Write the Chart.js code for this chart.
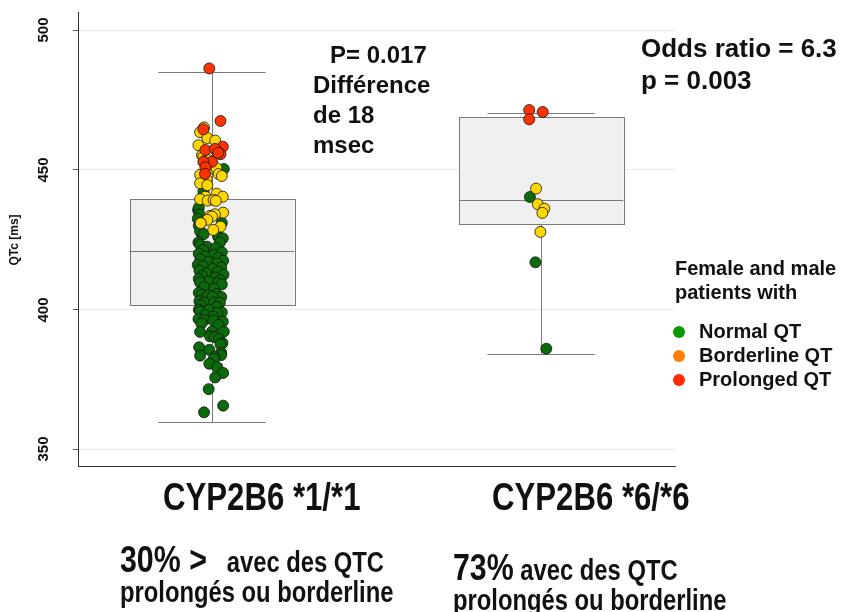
<!DOCTYPE html>
<html>
<head>
<meta charset="utf-8">
<script src="https://cdn.jsdelivr.net/npm/chart.js@4.4.1/dist/chart.umd.min.js"></script>
<style>
  html, body { margin: 0; padding: 0; background: #fff; }
  #wrap { position: relative; width: 842px; height: 612px; font-family: "Liberation Sans", Arial, sans-serif; font-weight: bold; color: #111; }
  #chart { position: absolute; left: 0; top: 0; }
  .txt { position: absolute; white-space: nowrap; }
  .narrow { transform: scaleX(0.82); transform-origin: left center; }
  .dot { display: inline-block; width: 12px; height: 12px; border-radius: 50%; margin-right: 14px; vertical-align: 0px; }
  .ylab { position: absolute; width: 40px; height: 16px; line-height: 16px; text-align: center; font-size: 15px; transform: rotate(-90deg); }
</style>
</head>
<body>
<div id="wrap">
  <canvas id="chart" width="842" height="612"></canvas>

  <div class="txt" style="left:14px; top:240px; width:0; height:0;">
    <div style="position:absolute; left:-40px; top:-8px; width:80px; text-align:center; font-size:12px; line-height:16px; transform:rotate(-90deg);">QTc [ms]</div>
  </div>

  <div class="txt" style="left:330px; top:40px; font-size:24px; line-height:30px;">P= 0.017</div>
  <div class="txt" style="left:313px; top:70px; font-size:24px; line-height:30px;">
    Différence<br>de 18<br>msec
  </div>
  <div class="txt" style="left:641px; top:32px; font-size:26px; line-height:32px;">
    Odds ratio = 6.3<br>p = 0.003
  </div>

  <div class="txt" style="left:675px; top:256px; font-size:20px; line-height:24px;">
    Female and male<br>patients with
  </div>
  <div class="txt" style="left:673px; top:319px; font-size:20px; line-height:24px;">
    <span class="dot" style="background:#0a9a00"></span>Normal QT<br>
    <span class="dot" style="background:#ff7f00"></span>Borderline QT<br>
    <span class="dot" style="background:#ff2a00"></span>Prolonged QT
  </div>

  <div class="txt narrow" style="left:163px; top:476px; font-size:38px; line-height:42px;">CYP2B6 *1/*1</div>
  <div class="txt narrow" style="left:492px; top:476px; font-size:38px; line-height:42px;">CYP2B6 *6/*6</div>

  <div class="txt narrow" style="left:120px; top:540px; font-size:29px; line-height:40px;">
    <span style="font-size:37px">30% &gt;</span>&nbsp;&nbsp; avec des QTC
  </div>
  <div class="txt narrow" style="left:120px; top:576px; font-size:29px; line-height:32px;">prolongés ou borderline</div>

  <div class="txt narrow" style="left:453px; top:548px; font-size:29px; line-height:40px;">
    <span style="font-size:37px">73%</span> avec des QTC
  </div>
  <div class="txt narrow" style="left:453px; top:584px; font-size:29px; line-height:32px;">prolongés ou borderline</div>
</div>

<script>
// groups sit at x = 1 and x = 2 on a linear axis
const groupNames = ['CYP2B6 *1/*1', 'CYP2B6 *6/*6'];
const groupPos = [1, 2];

// box plot summary per group (ms)
const whiskerLow = [359.9, 384.2];
const q1 = [401.5, 430.6];
const median = [421.0, 439.2];
const q3 = [439.6, 468.9];
const whiskerHigh = [485.0, 470.3];

const yTicks = [350, 400, 450, 500];

// jittered points: [QTc, horizontal jitter]
const g1Prolonged = [
  [486.3, -0.008], [467.5, 0.026], [464.5, -0.026], [458.3, 0.033], [456.8, 0.014],
  [457.1, -0.020], [455.6, 0.026], [457.5, 0.009], [452.9, 0.000], [452.9, -0.026],
  [450.9, -0.020], [448.6, -0.021], [456.1, 0.019]
];
const g1Borderline = [
  [465.2, -0.024], [463.5, -0.036], [461.4, -0.014], [460.5, 0.010], [458.8, -0.041],
  [455.3, -0.030], [454.7, -0.026], [453.5, -0.011], [452.8, -0.024], [450.5, 0.004],
  [450.6, 0.014], [448.5, 0.020], [448.2, -0.036], [447.8, 0.030], [446.6, -0.016],
  [445.2, -0.036], [444.5, -0.014], [441.5, 0.014], [440.4, 0.033], [440.4, -0.020],
  [439.5, -0.036], [439.0, -0.013], [439.2, 0.005], [438.9, 0.012], [434.7, 0.034],
  [434.1, 0.009], [433.5, -0.006], [433.3, 0.000], [432.1, -0.014], [431.1, -0.035],
  [430.9, -0.034], [429.7, 0.026], [428.5, 0.004]
];
const g1Normal = [
  [450.3, 0.036], [442.2, -0.026], [435.6, -0.042], [427.1, -0.031], [426.1, 0.019],
  [436.5, -0.040], [434.0, -0.038], [432.5, -0.043], [430.0, -0.040], [431.0, 0.030],
  [428.0, -0.036], [427.0, -0.025], [426.0, 0.020], [425.5, 0.033], [424.0, -0.041],
  [424.0, 0.024], [423.2, -0.036], [422.5, -0.015], [422.0, 0.012], [421.3, -0.027],
  [420.5, 0.030], [420.0, -0.040], [419.5, 0.005], [419.0, -0.022], [418.5, 0.020],
  [418.0, -0.035], [417.5, 0.034], [417.0, -0.010], [416.5, 0.015], [416.0, -0.043],
  [415.5, -0.028], [415.0, 0.028], [414.5, 0.002], [414.0, -0.038], [413.5, 0.018],
  [413.0, -0.018], [412.5, 0.035], [412.0, -0.030], [411.5, 0.010], [411.0, -0.040],
  [410.5, 0.025], [410.0, -0.010], [409.7, -0.036], [409.5, 0.018], [409.0, 0.030],
  [408.0, -0.024], [407.5, 0.006], [406.0, -0.040], [405.5, 0.014], [405.3, -0.030],
  [405.0, -0.012], [404.5, 0.028], [404.5, 0.002], [403.0, -0.038], [402.5, -0.024],
  [402.5, 0.006], [402.5, 0.024], [401.5, -0.034], [401.0, 0.015], [400.0, -0.040],
  [399.9, -0.010], [399.3, -0.036], [399.0, 0.030], [398.7, 0.016], [398.0, -0.020],
  [397.5, 0.004], [396.6, -0.041], [396.3, -0.023], [396.1, 0.004], [395.7, 0.033],
  [395.0, -0.032], [394.5, 0.020], [392.0, -0.036], [392.1, 0.000], [392.1, 0.036],
  [390.4, -0.006], [390.1, 0.008], [389.4, 0.022], [388.0, 0.032], [387.5, 0.026],
  [386.5, -0.039], [385.6, -0.008], [384.6, 0.028], [383.5, -0.036], [383.7, 0.028],
  [383.0, 0.008], [382.4, 0.006], [380.6, -0.008], [379.4, 0.016], [377.3, 0.034],
  [375.7, 0.010], [371.5, -0.010], [365.6, 0.034], [363.2, -0.024]
];
const g2Prolonged = [[471.4, -0.036], [470.7, 0.005], [468.1, -0.036]];
const g2Borderline = [[443.3, -0.015], [437.7, -0.010], [436.1, 0.010], [434.6, 0.004], [427.8, -0.002]];
const g2Normal = [[440.3, -0.034], [416.9, -0.017], [386.0, 0.016]];

function toPoints(list, pos) {
  return list.map(function(p) { return {x: pos + p[1], y: p[0]}; });
}

// boxes, whiskers and medians drawn with the chart's own scales
const boxPlugin = {
  id: 'boxes',
  beforeDatasetsDraw(chart) {
    const ctx = chart.ctx, xs = chart.scales.x, ys = chart.scales.y;
    ctx.save();
    ctx.strokeStyle = '#7a7a7a';
    ctx.lineWidth = 1;
    groupPos.forEach(function(pos, i) {
      const xc = Math.round(xs.getPixelForValue(pos)) + 0.5;
      const xl = xs.getPixelForValue(pos - 0.25), xr = xs.getPixelForValue(pos + 0.25);
      const cl = xs.getPixelForValue(pos - 0.163), cr = xs.getPixelForValue(pos + 0.163);
      const yq1 = ys.getPixelForValue(q1[i]), yq3 = ys.getPixelForValue(q3[i]);
      const ylo = Math.round(ys.getPixelForValue(whiskerLow[i])) + 0.5;
      const yhi = Math.round(ys.getPixelForValue(whiskerHigh[i])) + 0.5;
      const ymd = Math.round(ys.getPixelForValue(median[i])) + 0.5;
      ctx.beginPath();
      ctx.moveTo(xc, yhi); ctx.lineTo(xc, yq3);
      ctx.moveTo(xc, yq1); ctx.lineTo(xc, ylo);
      ctx.moveTo(cl, yhi); ctx.lineTo(cr, yhi);
      ctx.moveTo(cl, ylo); ctx.lineTo(cr, ylo);
      ctx.stroke();
      ctx.fillStyle = '#f0f0f0';
      ctx.fillRect(xl, yq3, xr - xl, yq1 - yq3);
      ctx.strokeRect(Math.round(xl) + 0.5, Math.round(yq3) + 0.5, Math.round(xr - xl), Math.round(yq1 - yq3));
      ctx.beginPath();
      ctx.moveTo(xl, ymd); ctx.lineTo(xr, ymd);
      ctx.stroke();
    });
    ctx.restore();
  }
};

function pointSet(label, color, list1, list2, order) {
  return {
    label: label,
    data: toPoints(list1, groupPos[0]).concat(toPoints(list2, groupPos[1])),
    backgroundColor: color,
    borderColor: '#111',
    borderWidth: 0.8,
    pointRadius: 5.5,
    order: order
  };
}

const chart = new Chart(document.getElementById('chart').getContext('2d'), {
  type: 'scatter',
  data: {
    datasets: [
      pointSet('Normal QT', '#0b6b0b', g1Normal, g2Normal, 3),
      pointSet('Borderline QT', '#ffd700', g1Borderline, g2Borderline, 2),
      pointSet('Prolonged QT', '#ff3300', g1Prolonged, g2Prolonged, 1)
    ]
  },
  plugins: [boxPlugin],
  options: {
    responsive: false,
    animation: false,
    layout: { padding: { top: 12, right: 167, bottom: 0, left: 0 } },
    plugins: { legend: { display: false }, tooltip: { enabled: false } },
    scales: {
      x: {
        type: 'linear', min: 0.593, max: 2.407,
        grid: { display: false, drawTicks: false },
        border: { display: true, color: '#333', width: 1 },
        ticks: { display: false },
        afterFit(s) { s.height = 146; }
      },
      y: {
        min: 344, max: 506.5,
        afterBuildTicks(s) { s.ticks = yTicks.map(function(v) { return {value: v}; }); },
        grid: { color: '#ebebeb', tickColor: '#555', tickLength: 5 },
        border: { display: true, color: '#333', width: 1 },
        ticks: { color: 'rgba(0,0,0,0)', callback: function() { return ''; } },
        afterFit(s) { s.width = 78; }
      }
    }
  }
});

// rotated y tick labels placed with the y scale
const ys = chart.scales.y;
yTicks.forEach(function(v) {
  const d = document.createElement('div');
  d.className = 'ylab';
  d.textContent = String(v);
  d.style.left = (43 - 20) + 'px';
  d.style.top = (ys.getPixelForValue(v) - 8) + 'px';
  document.getElementById('wrap').appendChild(d);
});
</script>
</body>
</html>
